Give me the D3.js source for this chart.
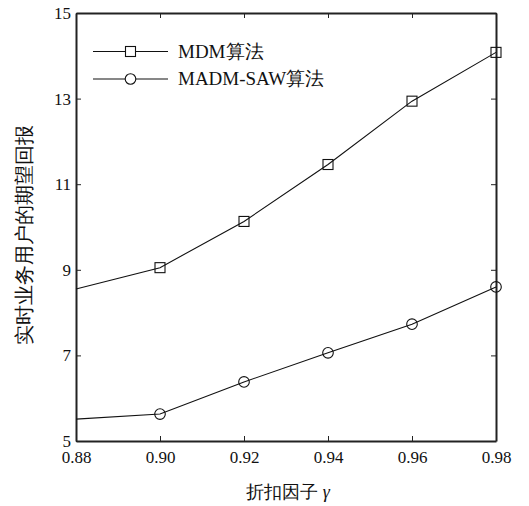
<!DOCTYPE html>
<html>
<head>
<meta charset="utf-8">
<script src="https://cdn.jsdelivr.net/npm/d3@7"></script>
</head>
<body style="margin:0;background:#fff">
<svg id="chart" width="529" height="506"></svg>
<script>
// 数据
const gamma = [0.88, 0.90, 0.92, 0.94, 0.96, 0.98]
const mdm = [8.55, 9.05, 10.13, 11.46, 12.94, 14.08]
const madmSaw = [5.51, 5.63, 6.38, 7.06, 7.73, 8.60]
const xTicks = [0.88, 0.90, 0.92, 0.94, 0.96, 0.98]
const yTicks = [5, 7, 9, 11, 13, 15]
const seriesNames = ["MDM算法", "MADM-SAW算法"]

const margin = {left: 76, right: 33, top: 13, bottom: 65}
const width = 529, height = 506
const fuente = 'Liberation Serif'

const svg = d3.select('#chart')

const x = d3.scaleLinear()
    .domain([0.88, 0.98])
    .range([margin.left, width - margin.right])

const y = d3.scaleLinear()
    .domain([5, 15])
    .range([height - margin.bottom, margin.top])

// 坐标轴 (刻度朝内)
const fmt = d3.format('.2f')
svg.append('g')
    .attr('transform', `translate(0,${y(5)})`)
    .call(d3.axisBottom(x).tickValues(xTicks).tickFormat(fmt).tickSizeInner(-5).tickSizeOuter(0).tickPadding(10))
svg.append('g')
    .attr('transform', `translate(0,${y(15)})`)
    .call(d3.axisTop(x).tickValues(xTicks).tickFormat('').tickSizeInner(-5).tickSizeOuter(0))
svg.append('g')
    .attr('transform', `translate(${x(0.88)},0)`)
    .call(d3.axisLeft(y).tickValues(yTicks).tickSizeInner(-5).tickSizeOuter(0).tickPadding(5))
svg.append('g')
    .attr('transform', `translate(${x(0.98)},0)`)
    .call(d3.axisRight(y).tickValues(yTicks).tickFormat('').tickSizeInner(-5).tickSizeOuter(0))

svg.selectAll('g').attr('font-family', fuente).attr('font-size', 17)
svg.selectAll('.domain').attr('stroke', '#222').attr('stroke-width', 2)
svg.selectAll('.tick line').attr('stroke', '#222')
svg.selectAll('.tick text').attr('fill', '#111')

// 曲线
const line = d3.line()
    .x(d => x(d[0]))
    .y(d => y(d[1]))

const datos = [mdm, madmSaw].map(s => gamma.map((g, i) => [g, s[i]]))

svg.selectAll('.serie')
    .data(datos)
    .join('path')
    .attr('class', 'serie')
    .attr('d', line)
    .attr('fill', 'none')
    .attr('stroke', '#111')
    .attr('stroke-width', 1.1)

// 标记 (第一个点没有标记)
svg.selectAll('.sq')
    .data(datos[0].slice(1))
    .join('rect')
    .attr('class', 'sq')
    .attr('x', d => x(d[0]) - 5)
    .attr('y', d => y(d[1]) - 5)
    .attr('width', 10)
    .attr('height', 10)
    .attr('fill', 'none')
    .attr('stroke', '#111')
    .attr('stroke-width', 1.1)

svg.selectAll('.ci')
    .data(datos[1].slice(1))
    .join('circle')
    .attr('class', 'ci')
    .attr('cx', d => x(d[0]))
    .attr('cy', d => y(d[1]))
    .attr('r', 5.3)
    .attr('fill', 'none')
    .attr('stroke', '#111')
    .attr('stroke-width', 1.1)

// 图例
const legend = svg.append('g')
seriesNames.forEach((name, i) => {
    const ly = 51.5 + i * 27.5
    legend.append('line')
        .attr('x1', 93).attr('x2', 168)
        .attr('y1', ly).attr('y2', ly)
        .attr('stroke', '#111').attr('stroke-width', 1.1)
    if (i === 0) {
        legend.append('rect')
            .attr('x', 125.5).attr('y', ly - 5).attr('width', 10).attr('height', 10)
            .attr('fill', '#fff').attr('stroke', '#111').attr('stroke-width', 1.1)
    } else {
        legend.append('circle')
            .attr('cx', 130.5).attr('cy', ly).attr('r', 5.3)
            .attr('fill', '#fff').attr('stroke', '#111').attr('stroke-width', 1.1)
    }
    legend.append('text')
        .attr('x', 178).attr('y', ly + 6)
        .attr('font-family', fuente)
        .attr('font-size', 19)
        .attr('fill', '#111')
        .text(name)
})

// 轴标题
svg.append('text')
    .attr('x', 288).attr('y', 498)
    .attr('text-anchor', 'middle')
    .attr('font-family', fuente)
    .attr('font-size', 18)
    .attr('fill', '#111')
    .html('折扣因子 <tspan font-style="italic">γ</tspan>')

svg.append('text')
    .attr('transform', 'translate(31,235) rotate(-90)')
    .attr('text-anchor', 'middle')
    .attr('font-family', fuente)
    .attr('font-size', 20)
    .attr('fill', '#111')
    .text('实时业务用户的期望回报')
</script>
</body>
</html>
